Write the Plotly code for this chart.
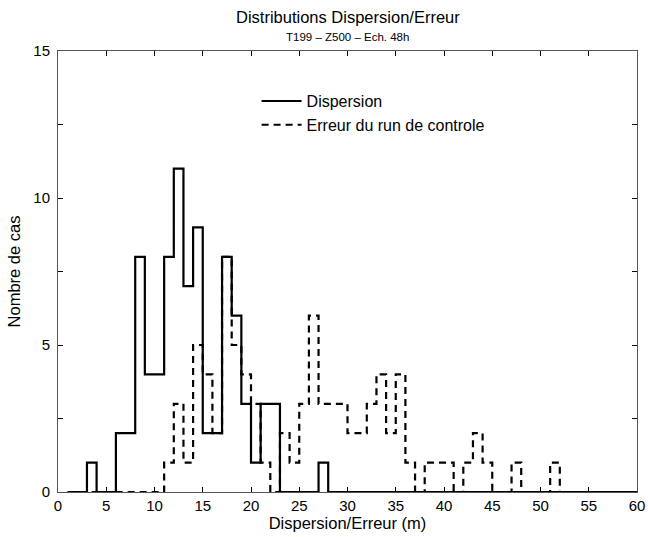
import plotly.graph_objects as go

# Bin left edges (width 1 m) from 1 to 59, plus closing edge 60
bin_edges = list(range(1, 61))

dispersion_counts = [0, 0, 1, 0, 0, 2, 2, 8, 4, 4,   # 1..10
                     8, 11, 7, 9, 2, 2, 8, 6, 3, 1,  # 11..20
                     3, 3, 0, 0, 0, 0, 1, 0, 0, 0,   # 21..30
                     0, 0, 0, 0, 0, 0, 0, 0, 0, 0,   # 31..40
                     0, 0, 0, 0, 0, 0, 0, 0, 0, 0,   # 41..50
                     0, 0, 0, 0, 0, 0, 0, 0, 0]      # 51..59

erreur_counts = [0, 0, 0, 0, 0, 0, 0, 0, 0, 0,       # 1..10
                 1, 3, 1, 5, 4, 2, 8, 5, 4, 3,       # 11..20
                 1, 0, 2, 1, 3, 6, 3, 3, 3, 2,       # 21..30
                 2, 3, 4, 2, 4, 1, 0, 1, 1, 1,       # 31..40
                 0, 1, 2, 1, 0, 0, 1, 0, 0, 0,       # 41..50
                 1, 0, 0, 0, 0, 0, 0, 0, 0]          # 51..59

x_ticks = list(range(0, 61, 5))
y_ticks = [0, 2.5, 5, 7.5, 10, 12.5, 15]
y_ticktext = ["0", "", "5", "", "10", "", "15"]

FONT = "Liberation Sans, Arial, sans-serif"

fig = go.Figure()
fig.add_trace(go.Scatter(
    x=bin_edges, y=dispersion_counts + [dispersion_counts[-1]],
    mode="lines", line=dict(shape="hv", color="black", width=2.2),
    name="Dispersion"))
fig.add_trace(go.Scatter(
    x=bin_edges, y=erreur_counts + [erreur_counts[-1]],
    mode="lines", line=dict(shape="hv", color="black", width=2.2, dash="7px,5px"),
    name="Erreur du run de controle"))

axis_common = dict(showgrid=False, zeroline=False, showline=True, linecolor="#555",
                   linewidth=1, mirror="ticks", ticks="inside", ticklen=5,
                   tickcolor="black", tickwidth=1, layer="below traces",
                   automargin=False,
                   tickfont=dict(family=FONT, size=15, color="black"))

fig.update_layout(
    width=648, height=537,
    margin=dict(l=58, r=11, t=51, b=45),
    paper_bgcolor="white", plot_bgcolor="white",
    font=dict(family=FONT, color="black"),
    xaxis=dict(range=[0, 60], tickvals=x_ticks, **axis_common,
               title=dict(text="Dispersion/Erreur (m)", font=dict(size=16.5, family=FONT), standoff=2)),
    yaxis=dict(range=[0, 15], tickvals=y_ticks, ticktext=y_ticktext, **axis_common,
               ticklabelstandoff=4,
               title=dict(text="Nombre de cas", font=dict(size=16.5, family=FONT), standoff=8)),
    legend=dict(x=0.343, y=0.925, xanchor="left", yanchor="top",
                bgcolor="rgba(0,0,0,0)", borderwidth=0, itemwidth=40,
                font=dict(family=FONT, size=16), tracegroupgap=0),
    showlegend=True,
    annotations=[
        dict(text="Distributions Dispersion/Erreur", x=0.5, y=1, xref="paper", yref="paper",
             yanchor="middle", yshift=34, showarrow=False, font=dict(family=FONT, size=16.5)),
        dict(text="T199 – Z500 – Ech. 48h", x=0.5, y=1, xref="paper", yref="paper",
             yanchor="middle", yshift=14, showarrow=False, font=dict(family=FONT, size=11.5)),
    ],
)

fig.write_html("out.html", config={"displayModeBar": False},
               post_script="document.body.style.margin='0';")
